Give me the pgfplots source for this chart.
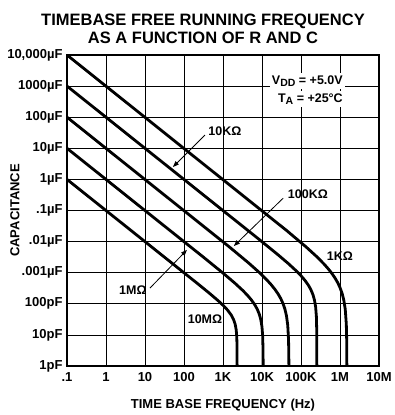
\documentclass[border=0pt]{standalone}
\usepackage{fontspec}
\setmainfont{Liberation Sans}
\usepackage{pgfplots}
\pgfplotsset{compat=1.18}
\usetikzlibrary{arrows.meta}

\newcommand{\lbl}{\bfseries\fontsize{12.5}{14}\selectfont}
\tikzset{curve/.style={black, line width=2.8pt, line join=round, mark=none}}

\begin{document}
\begin{tikzpicture}
\begin{axis}[
  width=312pt, height=311pt, scale only axis,
  xmode=log, ymode=log,
  xmin=0.1, xmax=1e7, ymin=1e-12, ymax=1e-2,
  xtick={0.1,1,10,100,1e3,1e4,1e5,1e6,1e7},
  xticklabels={.1,1,10,100,1K,10K,100K,1M,10M},
  ytick={1e-12,1e-11,1e-10,1e-9,1e-8,1e-7,1e-6,1e-5,1e-4,1e-3,1e-2},
  yticklabels={1pF,10pF,100pF,.001µF,.01µF,.1µF,1µF,10µF,100µF,1000µF,{10,000µF}},
  minor xtick={}, minor ytick={},
  tick style={draw=none},
  grid=major, major grid style={black, line width=0.8pt},
  axis line style={black, line width=1.3pt},
  tick label style={font=\bfseries\fontsize{13}{15}\selectfont},
  xticklabel style={yshift=-3pt},
  yticklabel style={xshift=-1pt},
  xlabel={TIME BASE FREQUENCY (Hz)},
  ylabel={CAPACITANCE},
  label style={font=\bfseries\fontsize{13}{15}\selectfont},
  xlabel style={at={(axis description cs:0.5,-0.125)}, anchor=center},
  ylabel style={at={(axis description cs:-0.167,0.5)}, anchor=center},
  title={TIMEBASE FREE RUNNING FREQUENCY\\AS A FUNCTION OF R AND C},
  title style={align=center, font=\bfseries\fontsize{16.5}{18}\selectfont,
    at={(axis description cs:0.436,1)}, anchor=south, yshift=2pt},
]

% R = 1K
\addplot[curve] coordinates {
  (0.1,1e-2) (4.37e4,2.222e-8) (1.364e5,6.667e-9) (2.5e5,3.333e-9) (3.889e5,1.905e-9)
  (5.0e5,1.333e-9) (6.177e5,9.524e-10) (7.5e5,6.667e-10) (8.75e5,4.762e-10)
  (1.0e6,3.333e-10) (1.125e6,2.222e-10) (1.25e6,1.333e-10) (1.364e6,6.667e-11)
  (1.452e6,2.222e-11) (1.485e6,6.667e-12) (1.5e6,1e-12)
};
% R = 10K
\addplot[curve] coordinates {
  (0.1,1e-3) (7609,1.307e-8) (2.480e4,3.922e-9) (4.748e4,1.961e-9) (7.698e4,1.120e-9)
  (1.0136e5,7.843e-10) (1.2719e5,5.602e-10) (1.5542e5,3.922e-10) (1.8031e5,2.801e-10)
  (2.0270e5,1.961e-10) (2.2190e5,1.307e-10) (2.3743e5,7.843e-11) (2.4799e5,3.922e-11)
  (2.5352e5,1.307e-11) (2.55e5,1e-12)
};
% R = 100K
\addplot[curve] coordinates {
  (0.1,1e-4) (1442,6.803e-9) (4572,2.041e-9) (8497,1.020e-9) (1.3372e4,5.831e-10)
  (1.7297e4,4.082e-10) (2.1457e4,2.915e-10) (2.6093e4,2.041e-10) (3.0400e4,1.458e-10)
  (3.4594e4,1.020e-10) (3.8641e4,6.803e-11) (4.2478e4,4.082e-11) (4.5722e4,2.041e-11)
  (4.7971e4,6.803e-12) (4.874e4,2.041e-12) (4.9e4,1e-12)
};
% R = 1M
\addplot[curve] coordinates {
  (0.1,1e-5) (319.3,3.115e-9) (1040.6,9.346e-10) (1992,4.673e-10) (3230,2.670e-10)
  (4253,1.869e-10) (5337,1.335e-10) (6522,9.346e-11) (7566,6.676e-11)
  (8505,4.673e-11) (9311,3.115e-11) (9963,1.869e-11) (10406,9.346e-12)
  (10638,3.115e-12) (10700,1e-12)
};
% R = 10M
\addplot[curve] coordinates {
  (0.1,1e-6) (228.9,4.348e-10) (451.0,2.174e-10) (759.9,1.242e-10) (1028.6,8.696e-11)
  (1319,6.211e-11) (1626,4.348e-11) (1872,3.106e-11) (2057,2.174e-11)
  (2182,1.449e-11) (2255,8.696e-12) (2289,4.348e-12) (2300,1e-12)
};

% annotations
\node[fill=white, inner sep=2pt, anchor=east, font=\lbl] at (axis cs:1.34e6,1.46e-3)
  {V\raisebox{-0.35ex}{\fontsize{10.5}{11}\selectfont DD} = +5.0V};
\node[fill=white, inner sep=2pt, anchor=east, font=\lbl] at (axis cs:1.34e6,3.85e-4)
  {T\raisebox{-0.35ex}{\fontsize{10.5}{11}\selectfont A} = +25°C};

\node[font=\lbl, inner sep=1pt] at (axis cs:1120,3.6e-5) {10KΩ};
\draw[-{Triangle[length=6pt,width=4.5pt]}, line width=0.8pt]
  (axis cs:345,2.68e-5) -- (axis cs:52,2.5e-6);

\node[font=\lbl, inner sep=1pt] at (axis cs:1.5e5,3.4e-7) {100KΩ};
\draw[-{Triangle[length=6pt,width=4.5pt]}, line width=0.8pt]
  (axis cs:3.5e4,2.5e-7) -- (axis cs:1900,7.2e-9);

\node[font=\lbl, inner sep=1pt] at (axis cs:4.9,2.8e-10) {1MΩ};
\draw[-{Triangle[length=6pt,width=4.5pt]}, line width=0.8pt]
  (axis cs:13.4,3.2e-10) -- (axis cs:119,5.4e-9);

\node[font=\lbl, inner sep=1pt] at (axis cs:345,3.2e-11) {10MΩ};
\node[font=\lbl, inner sep=1pt] at (axis cs:1e6,3.5e-9) {1KΩ};

\end{axis}
\path (current axis.south west) ++(-67pt,-49pt) rectangle ++(390pt,415pt);
\end{tikzpicture}
\end{document}
